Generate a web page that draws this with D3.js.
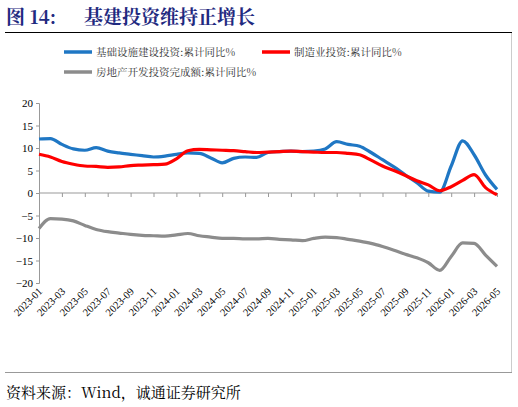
<!DOCTYPE html>
<html><head><meta charset="utf-8">
<script src="https://cdn.jsdelivr.net/npm/d3@7"></script>
<style>body{margin:0;background:#fff}</style></head>
<body><svg id="c" width="518" height="407"></svg>
<script>
const months = [];
for (let y = 2023; y <= 2026; y++) for (let m = 1; m <= 12; m++) { if (y === 2026 && m > 5) break; months.push(y + "-" + String(m).padStart(2, "0")); }
const infra = [12,12.1,10.8,9.8,9.5,10.1,9.3,8.9,8.6,8.3,8.0,8.2,8.6,8.9,8.8,7.8,6.7,7.7,8.0,7.9,9.0,9.2,9.3,9.2,9.3,9.8,11.4,10.8,10.4,9.0,7.4,5.8,4.0,2.3,0.4,0.2,6.0,11.6,8.5,4.0,0.8];
const manuf = [8.6,8.0,7.0,6.4,6.0,5.9,5.7,5.8,6.1,6.2,6.3,6.4,7.6,9.4,9.7,9.6,9.5,9.4,9.2,9.0,9.1,9.2,9.3,9.2,9.1,9.0,9.0,8.8,8.5,7.3,6.0,5.0,3.9,2.7,1.8,0.5,1.4,2.8,4.1,1.2,-0.4];
const realty = [-7.9,-5.7,-5.8,-6.2,-7.2,-8.1,-8.6,-8.9,-9.2,-9.4,-9.5,-9.6,-9.3,-9.0,-9.5,-9.8,-10.1,-10.1,-10.2,-10.2,-10.1,-10.3,-10.4,-10.6,-10.1,-9.8,-9.9,-10.3,-10.7,-11.2,-11.9,-12.7,-13.6,-14.4,-15.5,-17.2,-14.1,-11.1,-11.2,-13.8,-16.3];
const yTicks = [20,15,10,5,0,-5,-10,-15,-20];
const seriesNames = ["基础设施建设投资:累计同比%","制造业投资:累计同比%","房地产开发投资完成额:累计同比%"];
const colors = ["#1f77c4","#ff0000","#8c8c8c"];

const svg = d3.select("#c");
const font = "'Times New Roman','Liberation Serif','Noto Serif CJK SC','Noto Sans CJK SC',serif";
const tf = "'Noto Serif CJK SC','Noto Sans CJK SC',serif";
svg.append("text").attr("x",6).attr("y",24).attr("fill","#1f2a80").attr("font-weight","bold")
  .attr("font-size",19).attr("font-family",tf).text("图 14:");
svg.append("text").attr("x",84).attr("y",24).attr("fill","#1f2a80").attr("font-weight","bold")
  .attr("font-size",19).attr("font-family",tf).text("基建投资维持正增长");
svg.append("line").attr("x1",5).attr("x2",512).attr("y1",32.5).attr("y2",32.5).attr("stroke","#000").attr("stroke-width",1);
svg.append("line").attr("x1",511.5).attr("x2",511.5).attr("y1",33).attr("y2",372).attr("stroke","#ccc");
svg.append("line").attr("x1",5).attr("x2",512).attr("y1",372.5).attr("y2",372.5).attr("stroke","#999");
svg.append("text").attr("x",6).attr("y",398).attr("font-size",15).attr("fill","#000")
  .attr("font-family",tf).text("资料来源：Wind，诚通证券研究所");

const x = d3.scalePoint().domain(months).range([39,497]);
const y = d3.scaleLinear().domain([-20,20]).range([283,103]);

const ya = svg.append("g").attr("transform","translate(39,0)")
  .call(d3.axisLeft(y).tickValues(yTicks).tickSize(3).tickFormat(d3.format("d")));
ya.selectAll("path,line").attr("stroke","#999");
ya.selectAll("text").attr("font-family",font).attr("font-size",11).attr("fill","#000");

const xa = svg.append("g").attr("transform",`translate(0,${y(0)})`)
  .call(d3.axisBottom(x).tickValues(months.filter((d,i)=>i%2===0)).tickSize(4).tickFormat(""));
xa.selectAll("path,line").attr("stroke","#999");
xa.select(".domain").attr("d",`M39,0H497`);

svg.append("g").selectAll("text").data(months.filter((d,i)=>i%2===0)).join("text")
  .attr("transform",d=>`translate(${x(d)+4},${292}) rotate(-45)`).attr("text-anchor","end")
  .attr("font-family",font).attr("font-size",10.5).attr("fill","#000").text(d=>d);

const line = d3.line().x((d,i)=>x(months[i])).y(d=>y(d)).curve(d3.curveMonotoneX);
[realty, infra, manuf].forEach((s,k)=>{
  const ci = [2,0,1][k];
  svg.append("path").attr("d",line(s)).attr("fill","none").attr("stroke",colors[ci]).attr("stroke-width",3.2);
});

const leg = [[64,52,0],[262,52,1],[64,72,2]];
leg.forEach(([lx,ly,i])=>{
  svg.append("line").attr("x1",lx).attr("x2",lx+28).attr("y1",ly).attr("y2",ly).attr("stroke",colors[i]).attr("stroke-width",3.5);
  svg.append("text").attr("x",lx+32).attr("y",ly+4).attr("font-size",10.5).attr("fill","#333")
    .attr("font-family",tf).text(seriesNames[i]);
});
</script></body></html>
